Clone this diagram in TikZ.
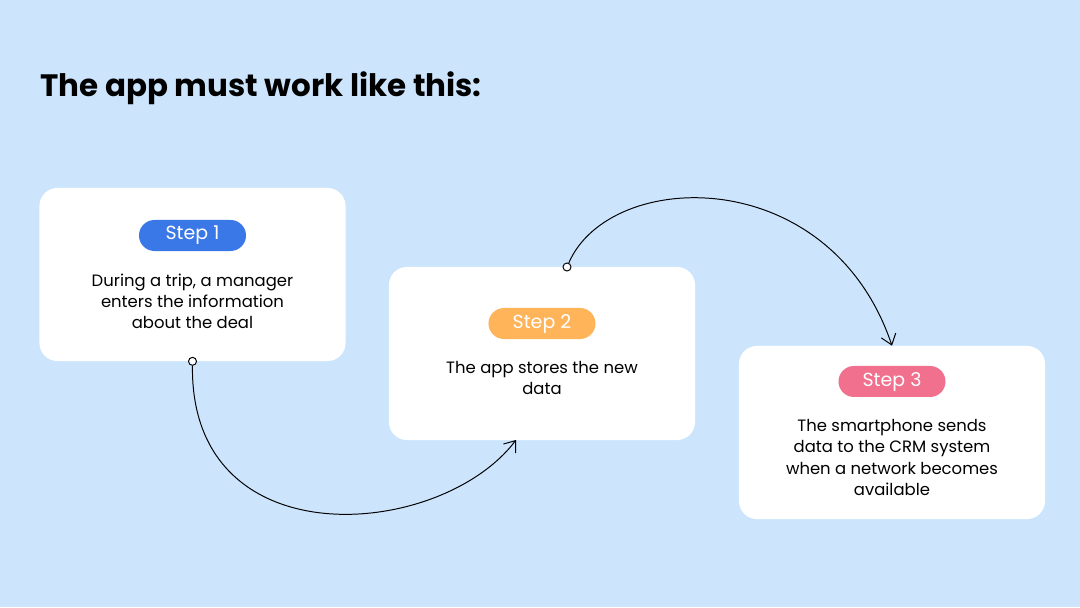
\documentclass[tikz,border=0pt]{standalone}
\usepackage{fontspec}
\setmainfont{Poppins}
\usetikzlibrary{arrows.meta, positioning}

\definecolor{bgblue}{HTML}{CCE5FD}
\definecolor{stepblue}{HTML}{3B78E7}
\definecolor{steporange}{HTML}{FFB45A}
\definecolor{steppink}{HTML}{F0708E}

\begin{document}
\begin{tikzpicture}[
  x=0.025cm, y=-0.025cm,
  card/.style = {fill=white, rounded corners=0.45cm, minimum width=7.65cm, minimum height=4.325cm},
  pill/.style = {rounded corners=0.3875cm, minimum width=2.675cm, minimum height=0.775cm, inner sep=0, text=white, font=\fontsize{13.5}{15}\selectfont},
  desc/.style = {align=center, inner sep=0, font=\fontsize{11.7}{15.1}\selectfont},
  dot/.style = {circle, draw, fill=white, inner sep=0, minimum size=0.2cm, line width=0.7pt},
  link/.style = {line width=0.7pt, -{Straight Barb[length=2.5mm, width=3.8mm]}}
]

  % Background
  \path[use as bounding box, fill=bgblue] (0,0) rectangle (1080,607);

  % Title
  \node[anchor=base west, inner sep=0, font=\fontsize{22}{26}\selectfont\bfseries] (title) at (40,96) {The app must work like this:};

  % Three cards
  \node[card] (box1) at (192.5,274.5) {};
  \node[card] (box2) at (542,353.5) {};
  \node[card] (box3) at (892,432.5) {};

  % Step labels
  \node[pill, fill=stepblue, below=0.8cm of box1.north] (step1) {Step 1};
  \node[pill, fill=steporange, below=1.025cm of box2.north] (step2) {Step 2};
  \node[pill, fill=steppink, below=0.5cm of box3.north] (step3) {Step 3};

  % Card texts
  \node[desc, below=0.55cm of step1] (text1) {During a trip, a manager\\enters the information\\about the deal};
  \node[desc, below=0.55cm of step2] (text2) {The app stores the new\\data};
  \node[desc, below=0.55cm of step3] (text3) {The smartphone sends\\data to the CRM system\\when a network becomes\\available};

  % Connectors
  \node[dot] (out1) at (box1.south) {};
  \node[dot] (out2) at (567,267) {};
  \coordinate (in2) at (516,440);
  \draw[link] (out1) .. controls (190,560) and (440,540) .. (in2);
  \draw[link] (out2) .. controls (610,168) and (830,162) .. (box3.north);

\end{tikzpicture}
\end{document}
